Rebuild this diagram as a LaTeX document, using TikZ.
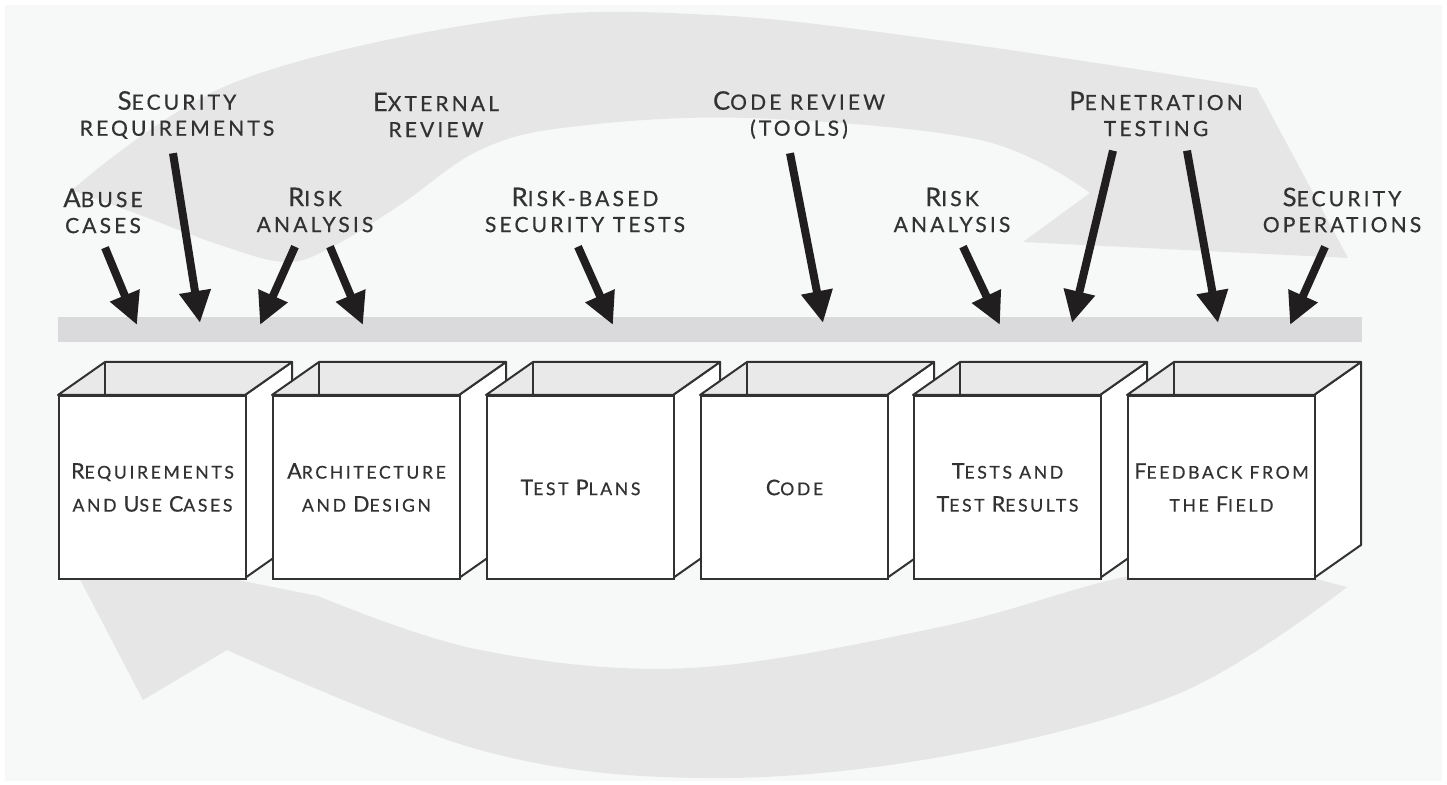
\documentclass[tikz,border=0pt]{standalone}
\usepackage{fontspec}
\usepackage{graphicx}
\usepackage{xcolor}
\usepackage{tikz}
\usetikzlibrary{shapes, positioning, arrows.meta}

\newfontfamily\capsfont{Lato}[LetterSpace=15, FakeBold=0.6]
\newcommand{\ini}[1]{\scalebox{1.22}{#1}}

\definecolor{backgray}{RGB}{247,248,248}
\definecolor{ringgray}{RGB}{230,230,231}
\definecolor{bargray}{RGB}{218,218,220}
\definecolor{innergray}{RGB}{233,233,234}
\definecolor{inkgray}{RGB}{50,50,50}
\definecolor{arrowblack}{RGB}{33,30,31}

\begin{document}
\begin{tikzpicture}[x=0.5pt, y=-0.5pt,
		touchpoint/.style={align=center, inner sep=0pt, text=inkgray, font=\capsfont\fontsize{10.5}{13}\selectfont},
		artifact/.style={draw=inkgray, line width=1pt, fill=white, anchor=north west, minimum width=93.5pt, minimum height=91.5pt, inner sep=0pt, align=center, text=inkgray, font=\capsfont\fontsize{8.8}{16.5}\selectfont},
		edge/.style={draw=inkgray, line width=1pt, line join=round},
		hit/.style={line width=4pt, draw=arrowblack, -{Triangle[width=15pt, length=16pt]}}]
	
	\useasboundingbox (0,0) rectangle (1447,785);
	\fill[white] (0,0) rectangle (1447,785);
	\fill[backgray] (5,5) rectangle (1442,781);
	
	\fill[ringgray] plot[smooth, tension=0.6] coordinates {(72,190) (233,83) (500,20) (713,15) (960,43) (1257,88)}
	-- (1348,258) -- (1023,242) -- (1090,193)
	-- plot[smooth, tension=0.6] coordinates {(1090,193) (980,140) (747,118) (570,127) (480,150) (400,205) (330,248) (285,262) (220,245) (140,215) (72,190)} -- cycle;
	
	\fill[ringgray] plot[smooth, tension=0.6] coordinates {(1347,587) (1180,693) (940,757) (700,778) (480,750) (227,650)}
	-- (143,700) -- (62,545) -- (318,596)
	-- plot[smooth, tension=0.6] coordinates {(318,596) (480,650) (690,668) (940,627) (1120,578) (1250,562)} -- cycle;
	
	\fill[bargray] (58,317) rectangle (1362,342);
	
	\coordinate (t1) at (137,325);
	\coordinate (t2) at (200,323);
	\coordinate (t3) at (260,325);
	\coordinate (t4) at (363,325);
	\coordinate (t5) at (613,325);
	\coordinate (t6) at (823,323);
	\coordinate (t7) at (1000,325);
	\coordinate (t8) at (1072,323);
	\coordinate (t9) at (1218,323);
	\coordinate (t10) at (1290,325);
	
	\node[touchpoint] (abuse) at (103,211) {\ini{A}BUSE\\CASES};
	\node[touchpoint] (secreq) at (177,115) {\ini{S}ECURITY\\REQUIREMENTS};
	\node[touchpoint] (risk1) at (315,210) {\ini{R}ISK\\ANALYSIS};
	\node[touchpoint] (external) at (436,115) {\ini{E}XTERNAL\\REVIEW};
	\node[touchpoint] (riskbased) at (585,210) {\ini{R}ISK-BASED\\SECURITY TESTS};
	\node[touchpoint] (codereview) at (799,115) {\ini{C}ODE REVIEW\\(TOOLS)};
	\node[touchpoint] (risk2) at (952,210) {\ini{R}ISK\\ANALYSIS};
	\node[touchpoint] (pentest) at (1156,114) {\ini{P}ENETRATION\\TESTING};
	\node[touchpoint] (secops) at (1342,210) {\ini{S}ECURITY\\OPERATIONS};
	
	\draw[hit] ([xshift=1pt, yshift=-7pt]abuse.south) -- (t1);
	\draw[hit] ([xshift=-2pt, yshift=-7pt]secreq.south) -- (t2);
	\draw[hit] ([xshift=-10pt, yshift=-7pt]risk1.south) -- (t3);
	\draw[hit] ([xshift=7.5pt, yshift=-7pt]risk1.south) -- (t4);
	\draw[hit] ([xshift=-3.5pt, yshift=-7pt]riskbased.south) -- (t5);
	\draw[hit] ([xshift=-4.5pt, yshift=-7pt]codereview.south) -- (t6);
	\draw[hit] ([xshift=5.5pt, yshift=-7pt]risk2.south) -- (t7);
	\draw[hit] ([xshift=-21.5pt, yshift=-7pt]pentest.south) -- (t8);
	\draw[hit] ([xshift=15.5pt, yshift=-7pt]pentest.south) -- (t9);
	\draw[hit] ([xshift=-8.5pt, yshift=-7pt]secops.south) -- (t10);
	
	\foreach \x/\nm/\txt in {58/req/{\ini{R}EQUIREMENTS\\AND \ini{U}SE \ini{C}ASES}, 272/arch/{\ini{A}RCHITECTURE\\AND \ini{D}ESIGN}, 486/plans/{\ini{T}EST \ini{P}LANS}, 700/code/{\ini{C}ODE}, 913/results/{\ini{T}ESTS AND\\\ini{T}EST \ini{R}ESULTS}, 1127/field/{\ini{F}EEDBACK FROM\\THE \ini{F}IELD}} {
		\draw[edge, fill=white] (\x+187,395) --++ (47,-33) --++ (0,183) --++ (-47,33) -- cycle;
		\draw[edge, fill=innergray] (\x,395) --++ (47,-33) --++ (187,0) --++ (-47,33) -- cycle;
		\draw[edge] (\x+47,362) --++ (0,33);
		\node[artifact] (\nm) at (\x,395) {\txt};
	}
\end{tikzpicture}
\end{document}
